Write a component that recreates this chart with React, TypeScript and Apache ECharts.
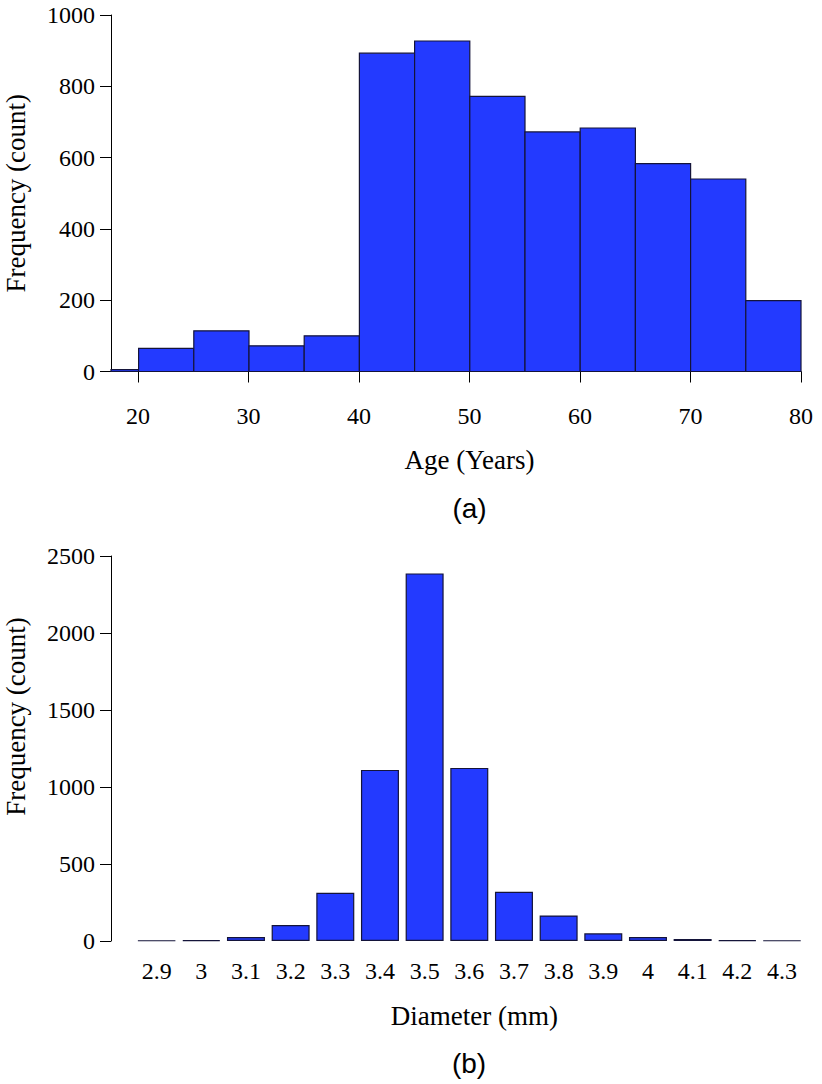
import React, { useEffect, useRef } from "react";
import * as echarts from "echarts";

// Panel (a): age histogram
const ageBinStarts = [17.5, 20, 25, 30, 35, 40, 45, 50, 55, 60, 65, 70, 75];
const ageBinEnds = [20, 25, 30, 35, 40, 45, 50, 55, 60, 65, 70, 75, 80];
const ageCounts = [5, 65, 114, 72, 100, 893, 927, 772, 672, 683, 583, 540, 199];

// Panel (b): diameter bar chart
const diameterLabels = ["2.9", "3", "3.1", "3.2", "3.3", "3.4", "3.5", "3.6", "3.7", "3.8", "3.9", "4", "4.1", "4.2", "4.3"];
const diameterCounts = [3, 6, 26, 104, 313, 1111, 2387, 1124, 319, 166, 50, 26, 13, 5, 3];

const BAR_FILL = "#233AFF";
const BAR_STROKE = "#14143a";
const SERIF = "'Liberation Serif', 'Times New Roman', serif";
const SANS = "'Liberation Sans', Arial, sans-serif";

export default function App() {
  const ref = useRef<HTMLDivElement>(null);

  useEffect(() => {
    if (!ref.current) return;
    const chart = echarts.init(ref.current, undefined, { renderer: "svg" });

    const plain = (v: number) => String(v);
    const tickLabel = { color: "#000", fontFamily: SERIF, fontSize: 24, formatter: plain };
    const nameStyle = { color: "#000", fontFamily: SERIF, fontSize: 27 };
    const axisLine = { show: true, lineStyle: { color: "#000", width: 1 } };
    const axisTick = { show: true, length: 11, lineStyle: { color: "#000", width: 1 } };

    const histData = ageBinStarts.map((s, i) => [s, ageBinEnds[i], ageCounts[i]]);

    chart.setOption({
      animation: false,
      backgroundColor: "#fff",
      grid: [
        { left: 111, top: 15, width: 690, height: 356.5, outerBoundsMode: "none", containLabel: false },
        { left: 138, top: 15, width: 663, height: 356.5, outerBoundsMode: "none", containLabel: false },
        { left: 134.3, top: 556, width: 670, height: 385, outerBoundsMode: "none", containLabel: false },
      ],
      xAxis: [
        { gridIndex: 0, type: "value", min: 17.5, max: 80, show: false },
        {
          gridIndex: 1,
          type: "value",
          min: 20,
          max: 80,
          interval: 10,
          offset: 15,
          axisLine,
          axisTick,
          splitLine: { show: false },
          axisLabel: { ...tickLabel, margin: 17 },
          name: "Age (Years)",
          nameLocation: "middle",
          nameGap: 60,
          nameTextStyle: nameStyle,
        },
        {
          gridIndex: 2,
          type: "category",
          data: diameterLabels,
          axisLine: { show: false },
          axisTick: { show: false },
          axisLabel: { color: "#000", fontFamily: SERIF, fontSize: 24, margin: 18, interval: 0 },
          name: "Diameter (mm)",
          nameLocation: "middle",
          nameGap: 61,
          nameTextStyle: { ...nameStyle, padding: [0, 0, 0, 10] },
        },
      ],
      yAxis: [
        {
          gridIndex: 0,
          type: "value",
          min: 0,
          max: 1000,
          interval: 200,
          axisLine,
          axisTick,
          splitLine: { show: false },
          axisLabel: { ...tickLabel, margin: 16 },
          name: "Frequency (count)",
          nameLocation: "middle",
          nameRotate: 90,
          nameGap: 82,
          nameTextStyle: nameStyle,
        },
        { gridIndex: 1, type: "value", min: 0, max: 1000, show: false },
        {
          gridIndex: 2,
          type: "value",
          min: 0,
          max: 2500,
          interval: 500,
          offset: 23.3,
          axisLine,
          axisTick,
          splitLine: { show: false },
          axisLabel: { ...tickLabel, margin: 16 },
          name: "Frequency (count)",
          nameLocation: "middle",
          nameRotate: 90,
          nameGap: 82,
          nameTextStyle: { ...nameStyle, padding: [0, 0, 0, 64] },
        },
      ],
      series: [
        {
          type: "custom",
          xAxisIndex: 0,
          yAxisIndex: 0,
          data: histData,
          encode: { x: [0, 1], y: 2 },
          renderItem: (params: any, api: any) => {
            const p0 = api.coord([api.value(0), 0]);
            const p1 = api.coord([api.value(1), api.value(2)]);
            return {
              type: "rect",
              shape: { x: p0[0], y: p1[1], width: p1[0] - p0[0], height: p0[1] - p1[1] },
              style: { fill: BAR_FILL, stroke: BAR_STROKE, lineWidth: 1.2 },
            };
          },
        },
        {
          type: "bar",
          xAxisIndex: 2,
          yAxisIndex: 2,
          data: diameterCounts,
          barWidth: 38,
          itemStyle: { color: BAR_FILL, borderColor: BAR_STROKE, borderWidth: 1.2 },
        },
      ],
      graphic: [
        {
          type: "text",
          x: 469.5,
          y: 508.5,
          style: { text: "(a)", fill: "#000", font: `28px ${SANS}`, textAlign: "center", textVerticalAlign: "middle" },
        },
        {
          type: "text",
          x: 469,
          y: 1063,
          style: { text: "(b)", fill: "#000", font: `28px ${SANS}`, textAlign: "center", textVerticalAlign: "middle" },
        },
      ],
    });

    return () => chart.dispose();
  }, []);

  return (
    <div
      ref={ref}
      style={{ position: "absolute", left: 0, top: 0, width: 822, height: 1084 }}
    />
  );
}
